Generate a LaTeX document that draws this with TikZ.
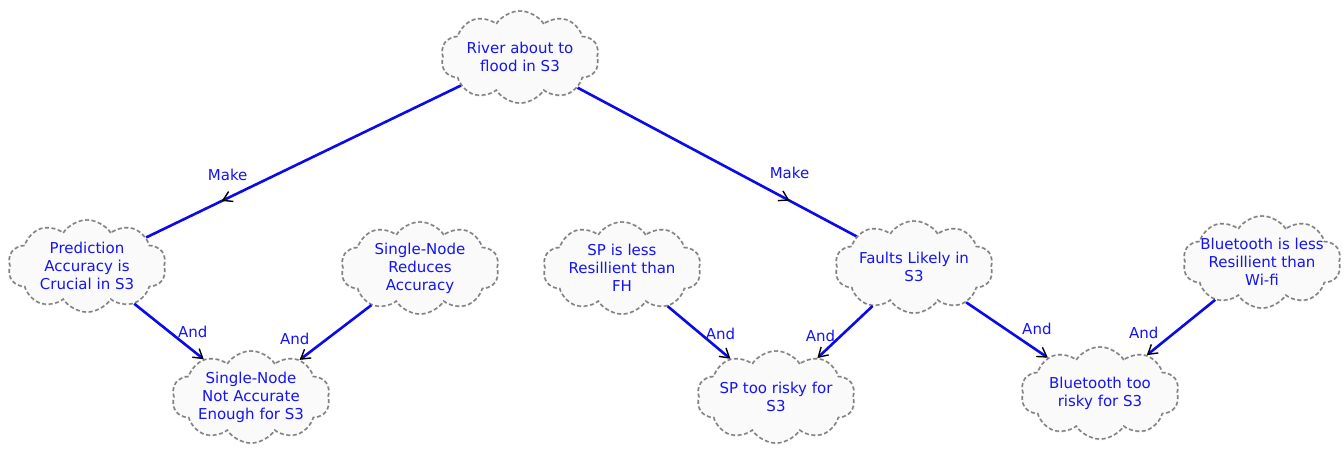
\documentclass[tikz,border=0pt]{standalone}
\usepackage{fontspec}
\setmainfont{DejaVu Sans}
\usetikzlibrary{shapes.symbols,arrows.meta,decorations.markings}
\definecolor{linkblue}{RGB}{10,10,235}
\definecolor{txtblue}{RGB}{20,20,245}
\tikzset{
  idea/.style={cloud, cloud puffs=10, cloud puff arc=115, aspect=1.7,
    cloud ignores aspect,
    minimum width=158pt, minimum height=92pt, inner xsep=-20pt, inner ysep=-8pt,
    fill=black!2, align=center, text=txtblue,
    font=\fontsize{15}{18}\selectfont,
    preaction={draw=black!20, line width=2.4pt},
    draw=black!50, line width=1.4pt, dash pattern=on 4pt off 2.5pt},
  link/.style={draw=linkblue, line width=2.6pt},
  tip/.style={-{Straight Barb[color=black, length=9pt, width=11pt, line width=1.4pt]}},
  midtip/.style={postaction={decorate}, decoration={markings,
    mark=at position #1 with {\arrow{Straight Barb[color=black, length=9pt, width=11pt, line width=1.4pt]}}}},
  lbl/.style={text=txtblue, font=\fontsize{15}{18}\selectfont, inner sep=1pt},
}
\begin{document}
\begin{tikzpicture}[x=1pt,y=-1pt]
\useasboundingbox (0,0) rectangle (1344,448);
\fill[white] (0,0) rectangle (1344,448);

\node[idea] (river)  at (520,57)  {River about to\\flood in S3};
\node[idea] (pred)   at (87,266)  {Prediction\\Accuracy is\\Crucial in S3};
\node[idea] (reduce) at (420,268) {Single-Node\\Reduces\\Accuracy};
\node[idea] (notacc) at (251,397) {Single-Node\\Not Accurate\\Enough for S3};
\node[idea] (spless) at (622,268) {SP is less\\Resillient than\\FH};
\node[idea] (faults) at (914,267) {Faults Likely in\\S3};
\node[idea] (sprisk) at (776,397) {SP too risky for\\S3};
\node[idea] (btless) at (1262,262) {Bluetooth is less\\Resillient than\\Wi-fi};
\node[idea] (btrisk) at (1100,393) {Bluetooth too\\risky for S3};

% cause links with a tip along the way
\draw[link, midtip=0.76] (river) -- (pred)
  node[lbl, pos=0.76, xshift=6pt, yshift=26pt] {Make};
\draw[link, midtip=0.76] (river) -- (faults)
  node[lbl, pos=0.76, xshift=0pt, yshift=28pt] {Make};

% conjunction links ending on the result
\draw[link, tip] (pred) -- (notacc)
  node[lbl, pos=1, xshift=-11pt, yshift=27pt] {And};
\draw[link, tip] (reduce) -- (notacc)
  node[lbl, pos=1, xshift=-5pt, yshift=21pt] {And};
\draw[link, tip] (spless) -- (sprisk)
  node[lbl, pos=1, xshift=-10pt, yshift=25pt] {And};
\draw[link, tip] (faults) -- (sprisk)
  node[lbl, pos=1, xshift=3pt, yshift=22pt] {And};
\draw[link, tip] (faults) -- (btrisk)
  node[lbl, pos=1, xshift=-11pt, yshift=29pt] {And};
\draw[link, tip] (btless) -- (btrisk)
  node[lbl, pos=1, xshift=-3pt, yshift=22pt] {And};
\end{tikzpicture}
\end{document}
